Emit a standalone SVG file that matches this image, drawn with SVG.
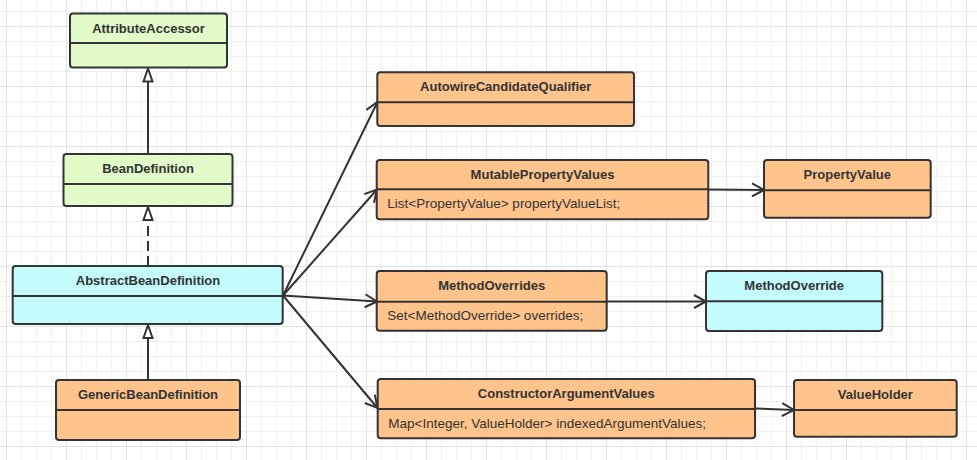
<svg xmlns="http://www.w3.org/2000/svg" width="977" height="460" viewBox="0 0 977 460">
<defs>
<pattern id="grid" patternUnits="userSpaceOnUse" x="6" y="26" width="60" height="60">
<rect x="0" y="0" width="60" height="60" fill="#ffffff"/>
<rect x="15" y="0" width="1" height="60" fill="#f0f0f0"/>
<rect x="30" y="0" width="1" height="60" fill="#f0f0f0"/>
<rect x="45" y="0" width="1" height="60" fill="#f0f0f0"/>
<rect x="0" y="15" width="60" height="1" fill="#f0f0f0"/>
<rect x="0" y="30" width="60" height="1" fill="#f0f0f0"/>
<rect x="0" y="45" width="60" height="1" fill="#f0f0f0"/>
<rect x="0" y="0" width="1" height="60" fill="#e2e2e2"/>
<rect x="0" y="0" width="60" height="1" fill="#e2e2e2"/>
</pattern>
<marker id="open" markerUnits="userSpaceOnUse" viewBox="-15 -9 18 18" markerWidth="18" markerHeight="18" refX="0" refY="0" orient="auto">
<path d="M-12,-6.5 L0,0 L-12,6.5" fill="none" stroke="#333333" stroke-width="2" stroke-linejoin="miter"/>
</marker>
<marker id="tri" markerUnits="userSpaceOnUse" viewBox="-17 -8 20 16" markerWidth="20" markerHeight="16" refX="0" refY="0" orient="auto">
<path d="M-14,-4.5 L-1,0 L-14,4.5 Z" fill="#ffffff" stroke="#333333" stroke-width="2" stroke-linejoin="miter"/>
</marker>
</defs>
<style>
.box{stroke:#333333;stroke-width:2}
.div{stroke:#333333;stroke-width:2}
.g{fill:#e1fcc9}
.c{fill:#c4fcfd}
.o{fill:#fec48c}
.h{font-family:"Liberation Sans",Arial,sans-serif;font-size:13px;font-weight:bold;fill:#333333;text-anchor:middle}
.a{font-family:"Liberation Sans",Arial,sans-serif;font-size:13.5px;fill:#333333}
.ln{stroke:#333333;stroke-width:2;fill:none}
</style>
<rect x="0" y="0" width="977" height="460" fill="url(#grid)"/>

<g id="connectors">
<line class="ln" x1="148" y1="154" x2="148" y2="67.5" marker-end="url(#tri)"/>
<line class="ln" x1="148" y1="266" x2="148" y2="206" stroke-dasharray="10 5" marker-end="url(#tri)"/>
<line class="ln" x1="148" y1="380" x2="148" y2="324" marker-end="url(#tri)"/>
<line class="ln" x1="283" y1="295.5" x2="377.5" y2="102" marker-end="url(#open)"/>
<line class="ln" x1="283" y1="295.5" x2="377" y2="189.5" marker-end="url(#open)"/>
<line class="ln" x1="283" y1="295.5" x2="377" y2="301.5" marker-end="url(#open)"/>
<line class="ln" x1="283" y1="295.5" x2="377.5" y2="408" marker-end="url(#open)"/>
<line class="ln" x1="708.5" y1="189.5" x2="764" y2="190" marker-end="url(#open)"/>
<line class="ln" x1="606.5" y1="301.5" x2="706" y2="301.5" marker-end="url(#open)"/>
<line class="ln" x1="755" y1="408.5" x2="794" y2="410" marker-end="url(#open)"/>
</g>

<g id="AttributeAccessor">
<rect class="box g" x="70" y="13.5" width="157" height="54" rx="3"/>
<line class="div" x1="70" y1="43" x2="227" y2="43"/>
<text class="h" x="148.5" y="32.5">AttributeAccessor</text>
</g>

<g id="BeanDefinition">
<rect class="box g" x="63.5" y="154" width="169" height="52" rx="3"/>
<line class="div" x1="63.5" y1="184" x2="232.5" y2="184"/>
<text class="h" x="148" y="173">BeanDefinition</text>
</g>

<g id="AbstractBeanDefinition">
<rect class="box c" x="12.7" y="266" width="270" height="58" rx="3"/>
<line class="div" x1="12.7" y1="296" x2="282.7" y2="296"/>
<text class="h" x="148" y="285">AbstractBeanDefinition</text>
</g>

<g id="GenericBeanDefinition">
<rect class="box o" x="56" y="380" width="184" height="60" rx="3"/>
<line class="div" x1="56" y1="410" x2="240" y2="410"/>
<text class="h" x="148" y="399">GenericBeanDefinition</text>
</g>

<g id="AutowireCandidateQualifier">
<rect class="box o" x="377.3" y="72.3" width="256.7" height="53.7" rx="3"/>
<line class="div" x1="377.3" y1="102.3" x2="634" y2="102.3"/>
<text class="h" x="505.7" y="91.3">AutowireCandidateQualifier</text>
</g>

<g id="MutablePropertyValues">
<rect class="box o" x="376.7" y="160" width="331.6" height="59.3" rx="3"/>
<line class="div" x1="376.7" y1="189.3" x2="708.3" y2="189.3"/>
<text class="h" x="542.5" y="179">MutablePropertyValues</text>
<text class="a" x="387.3" y="208.3">List&lt;PropertyValue&gt; propertyValueList;</text>
</g>

<g id="PropertyValue">
<rect class="box o" x="764" y="160" width="166.7" height="57.7" rx="3"/>
<line class="div" x1="764" y1="190.3" x2="930.7" y2="190.3"/>
<text class="h" x="847.3" y="179">PropertyValue</text>
</g>

<g id="MethodOverrides">
<rect class="box o" x="376.7" y="271" width="230" height="59.7" rx="3"/>
<line class="div" x1="376.7" y1="301.7" x2="606.7" y2="301.7"/>
<text class="h" x="491.7" y="290">MethodOverrides</text>
<text class="a" x="387.3" y="320">Set&lt;MethodOverride&gt; overrides;</text>
</g>

<g id="MethodOverride">
<rect class="box c" x="706" y="271" width="176.3" height="60" rx="3"/>
<line class="div" x1="706" y1="301.3" x2="882.3" y2="301.3"/>
<text class="h" x="794.2" y="290">MethodOverride</text>
</g>

<g id="ConstructorArgumentValues">
<rect class="box o" x="377.7" y="379" width="377.3" height="59.3" rx="3"/>
<line class="div" x1="377.7" y1="409" x2="755" y2="409"/>
<text class="h" x="566.3" y="398">ConstructorArgumentValues</text>
<text class="a" x="388.3" y="428">Map&lt;Integer, ValueHolder&gt; indexedArgumentValues;</text>
</g>

<g id="ValueHolder">
<rect class="box o" x="794" y="380" width="162.7" height="56.7" rx="3"/>
<line class="div" x1="794" y1="410" x2="956.7" y2="410"/>
<text class="h" x="875.3" y="399">ValueHolder</text>
</g>
</svg>
